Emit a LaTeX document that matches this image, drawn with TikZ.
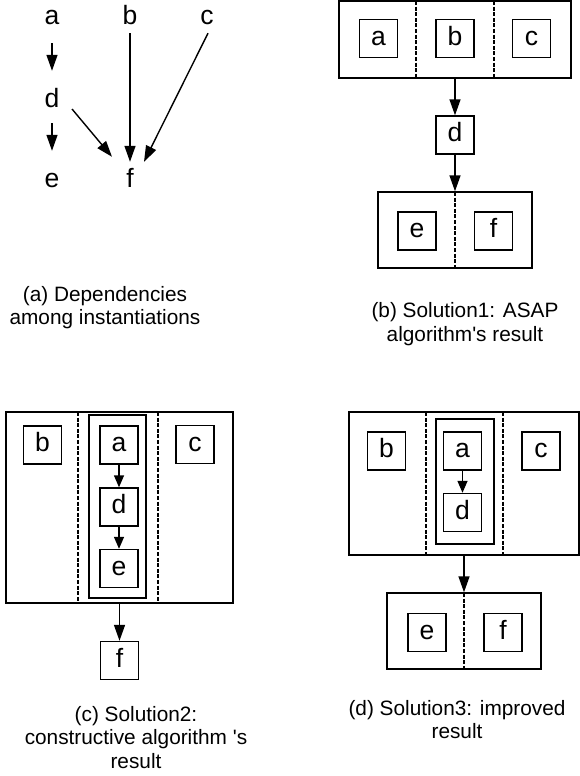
\documentclass[tikz,border=0pt]{standalone}
\usepackage{fontspec}
\newfontfamily\arialfont{Liberation Sans}
\usetikzlibrary{arrows.meta}
\tikzset{
  lbl/.style={font={\arialfont\fontsize{26.5}{26.5}\selectfont}, inner sep=0pt, text height=19pt, text depth=5.5pt, anchor=base},
  sbox/.style={draw, line width=1.4pt, minimum width=38pt, minimum height=38pt, inner sep=0pt,
               font={\arialfont\fontsize{26.5}{26.5}\selectfont}, text height=19pt, text depth=5.5pt},
  cont/.style={draw, line width=1.4pt, inner sep=0pt},
  divider/.style={line width=1.2pt, dash pattern=on 4pt off 1.6pt},
  arr/.style={line width=1.4pt, -{Triangle[length=16pt,width=11pt]}},
  sarr/.style={line width=1.4pt, -{Triangle[length=12pt,width=10pt]}},
  captxt/.style={font={\arialfont\fontsize{20.8}{23.5}\selectfont}, align=center, inner sep=0pt}
}
\begin{document}
\begin{tikzpicture}[x=1pt,y=-1pt]
\useasboundingbox (0,0) rectangle (580,776);

% ---------------- (a) ----------------
\node[lbl] (aa) at (52,25) {a};
\node[lbl] (ab) at (130,25) {b};
\node[lbl] (ac) at (207,25) {c};
\node[lbl] (ad) at (52,107) {d};
\node[lbl] (ae) at (52,187) {e};
\node[lbl] (af) at (130,187) {f};
\draw[arr, shorten <=12.5pt, shorten >=17pt] (aa.south) -- (ad.north);
\draw[arr, shorten <=10.5pt, shorten >=17pt] (ad.south) -- (ae.north);
\draw[arr, shorten <=2.5pt, shorten >=6pt] (ab.south) -- (af.north);
\draw[arr] ([shift={(1,2.5)}]ac.south) -- ([shift={(14,-6)}]af.north);
\draw[arr] ([shift={(20,8.75)}]ad.center) -- ([shift={(-18,-11)}]af.north);
\node[captxt] (capa) at (105,307.5) {(a) Dependencies\\among instantiations};

% ---------------- (b) ----------------
\node[cont, minimum width=232pt, minimum height=77pt] (bo) at (455,39.5) {};
\draw[divider] (416,1) -- (416,78);
\draw[divider] (494,1) -- (494,78);
\node[sbox] (ba) at (378.5,38.5) {a};
\node[sbox] (bb) at (455,38.5) {b};
\node[sbox] (bc) at (531.5,38.5) {c};
\node[sbox] (bd) at (455,135) {d};
\node[cont, minimum width=154pt, minimum height=76pt] (bl) at (455,230) {};
\draw[divider] (455,192) -- (455,268);
\node[sbox] (be) at (417,231) {e};
\node[sbox] (bf) at (493.5,231) {f};
\draw[arr] (bo.south) -- (bd.north);
\draw[arr] (bd.south) -- (bl.north);
\node[captxt] (capb) at (465,324) {(b) Solution1: ASAP\\algorithm's result};

% ---------------- (c) ----------------
\node[cont, minimum width=227pt, minimum height=191pt] (co) at (119.5,507.5) {};
\draw[divider] (78,412) -- (78,603);
\draw[divider] (158,412) -- (158,603);
\node[cont, minimum width=57pt, minimum height=183pt] (ci) at (117.5,506.5) {};
\node[sbox] (cb) at (42.5,445) {b};
\node[sbox] (cc) at (195,444.5) {c};
\node[sbox] (ca) at (119,445) {a};
\node[sbox] (cd) at (119,507) {d};
\node[sbox] (ce) at (119,568.5) {e};
\node[sbox] (cf) at (119.5,660.5) {f};
\draw[sarr] (ca.south) -- (cd.north);
\draw[sarr] (cd.south) -- (ce.north);
\draw[arr] (co.south) -- (cf.north);
\node[captxt] (capc) at (136,737.5) {(c) Solution2:\\constructive algorithm 's\\result};

% ---------------- (d) ----------------
\node[cont, minimum width=230pt, minimum height=143pt] (do) at (464,483.5) {};
\draw[divider] (426,412) -- (426,555);
\draw[divider] (503,412) -- (503,555);
\node[cont, minimum width=58pt, minimum height=125pt] (di) at (465,481.5) {};
\node[sbox] (db) at (386.5,451) {b};
\node[sbox] (dc) at (541,451) {c};
\node[sbox] (da) at (462.5,451) {a};
\node[sbox] (dd) at (462.5,512.5) {d};
\node[cont, minimum width=154pt, minimum height=76pt] (dl) at (464,631) {};
\draw[divider] (464,593) -- (464,669);
\node[sbox] (de) at (427,632.5) {e};
\node[sbox] (df) at (503,632.5) {f};
\draw[sarr] (da.south) -- (dd.north);
\draw[arr] (do.south) -- (dl.north);
\node[captxt] (capd) at (457,719.5) {(d) Solution3: improved\\result};
\end{tikzpicture}
\end{document}
